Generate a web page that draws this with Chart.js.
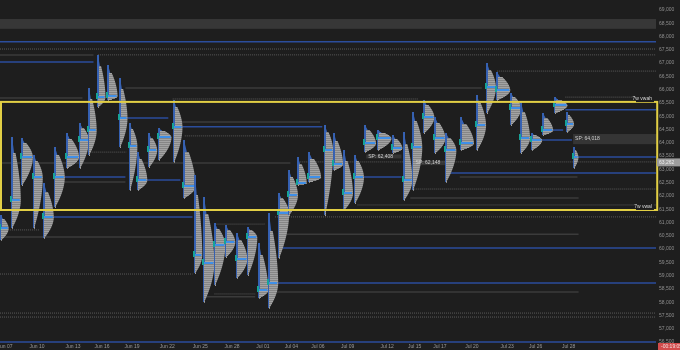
<!DOCTYPE html>
<html>
<head>
<meta charset="utf-8">
<script src="https://cdn.jsdelivr.net/npm/chart.js@4"></script>
<style>
  html, body { margin: 0; padding: 0; background: #1e1e1e; }
  canvas { display: block; }
</style>
</head>
<body>
<canvas id="profileChart" width="680" height="350"></canvas>
<script>
// x axis: session slots, tick labels
const xTickPos = [0.45, 3.36, 6.64, 9.27, 12.0, 15.2, 18.2, 21.1, 23.9, 26.5, 28.9, 31.6, 35.2, 37.7, 40.0, 42.9, 46.1, 48.7, 51.7];
const xTickLabels = ['Jun 07', 'Jun 10', 'Jun 13', 'Jun 16', 'Jun 19', 'Jun 22', 'Jun 25', 'Jun 28', 'Jul 01', 'Jul 04', 'Jul 06',
  'Jul 09', 'Jul 12', 'Jul 15', 'Jul 17', 'Jul 20', 'Jul 23', 'Jul 26', 'Jul 28'];
// price axis ticks
const yTickValues = [56500, 57000, 57500, 58000, 58500, 59000, 59500, 60000, 60500, 61000, 61500, 62000, 62500,
  63000, 63500, 64000, 64500, 65000, 65500, 66000, 66500, 67000, 67500, 68000, 68500, 69000];

// daily volume profiles
const profileX = [0, 1.0, 1.9, 3.0, 3.9, 4.9, 6.0, 7.2, 8.0, 8.8, 9.7, 10.8, 11.7, 12.5, 13.5, 14.4, 15.7, 16.6, 17.6, 18.5,
  19.5, 20.5, 21.5, 22.5, 23.5, 24.4, 25.3, 26.2, 27.0, 28.0, 29.5, 30.3, 31.2, 32.2, 33.1, 34.3, 35.6, 36.6, 37.5, 38.5,
  39.5, 40.5, 41.8, 43.3, 44.2, 45.1, 46.4, 47.3, 48.3, 49.3, 50.4, 51.5, 52.1];
const profileHigh = [61280, 64220, 64180, 63540, 62490, 63840, 64370, 64750, 66060, 67310, 66930, 66440, 64750, 63650, 64370, 64560, 65610, 64110, 62790, 61960,
  60980, 60910, 60600, 60830, 60230, 61360, 62110, 62980, 63470, 63650, 64670, 64370, 63730, 63540, 64670, 64480, 64290, 64410, 65160, 65610,
  64970, 64370, 64970, 65800, 67010, 66670, 65880, 65540, 64370, 65120, 65730, 65160, 63840];
const profileLow = [60340, 60790, 62410, 60790, 60420, 61580, 63050, 63050, 63540, 65350, 65610, 63840, 62220, 62220, 63090, 63350, 63280, 61920, 59100, 58010,
  58650, 59700, 58910, 59020, 58160, 57780, 59660, 61280, 62410, 62520, 61280, 62980, 61470, 61730, 63650, 63730, 63620, 61850, 62220, 64370,
  63620, 62520, 63730, 63730, 65120, 65610, 64670, 63620, 63730, 64290, 65120, 64410, 63050];
const profilePoc = [60790, 61850, 63470, 62710, 61210, 62710, 63470, 64110, 64480, 65730, 65760, 64930, 63880, 62600, 63730, 64220, 64600, 62370, 59780, 59470,
  60150, 60270, 59630, 60450, 58460, 58720, 61360, 62040, 62490, 62710, 63730, 63200, 62110, 62710, 63990, 64180, 63800, 62600, 63840, 64970,
  64180, 63730, 63990, 64670, 66100, 65990, 65310, 64180, 64110, 64480, 65420, 64710, 63470];
const profileVolume = [0.7, 0.8, 1.0, 0.8, 0.9, 0.9, 1.1, 0.8, 0.7, 0.7, 0.9, 0.7, 0.7, 0.8, 0.7, 1.1, 0.8, 1.1, 0.7, 0.9,
  0.9, 0.8, 0.9, 0.8, 0.8, 0.8, 0.9, 0.8, 0.8, 1.1, 0.7, 0.8, 0.8, 0.8, 1.0, 1.2, 0.9, 0.8, 0.8, 0.9,
  0.9, 0.9, 1.2, 0.8, 0.8, 1.2, 0.9, 0.8, 0.9, 0.9, 1.1, 0.6, 0.4];

// horizontal levels (naked pocs, highs/lows, vwap levels)
const levelPrice = [67800, 67040, 65240, 64930, 64600, 64480, 64110, 63470, 62860, 62710, 62600, 62710, 61210, 60040, 58720, 56500,
  67310, 66060, 65690, 64780, 63240, 62520, 60450, 61920, 62710, 60560, 58380, 58200,
  67530, 67310, 66700, 65720, 65650, 64260, 63650, 63280, 62260, 61660, 61210, 60720, 60940, 59060, 58310, 57590, 57440];
const levelFrom = [0, 0, 51.4, 10.9, 15.7, 49.4, 47.5, 52.3, 40.9, 5.2, 13.0, 32.5, 4.1, 25.5, 25.2, 0,
  0, 11.4, 0, 16.4, 0, 5.2, 0, 37.3, 41.8, 25.5, 23.6, 18.6,
  0, 8.9, 45.2, 51.4, 15.7, 16.8, 7.3, 27.3, 37.3, 32.5, 25.0, 0.9, 19.5, 0, 19.5, 0, 0];
const levelTo = [59.7, 8.5, 59.7, 15.3, 29.3, 51.2, 52.0, 59.7, 59.7, 11.4, 16.4, 36.5, 17.5, 59.7, 59.7, 59.7,
  8.5, 43.8, 7.5, 29.1, 26.4, 11.4, 17.5, 52.6, 52.5, 52.6, 52.6, 23.2,
  59.7, 59.7, 59.7, 58.2, 38.0, 29.1, 11.5, 59.7, 59.7, 59.7, 59.7, 3.6, 24.1, 17.5, 23.2, 59.7, 59.7];
const levelKind = ['blue', 'blue', 'blue', 'blue', 'blue', 'blue', 'blue', 'blue', 'blue', 'blue', 'blue', 'blue', 'blue', 'blue', 'blue', 'blue',
  'gray', 'gray', 'gray', 'gray', 'gray', 'gray', 'gray', 'gray', 'gray', 'gray', 'gray', 'gray',
  'dot', 'dot', 'dot', 'dot', 'dot', 'dot', 'dot', 'dot', 'dot', 'dot', 'dot', 'dot', 'dot', 'dot', 'dot', 'dot', 'dot'];

// 7 week value area
const zoneHigh = 65540;
const zoneLow = 61470;
const zoneFrom = 0;
const zoneTo = 59.75;
const vwapLabels = ['7w vwah', '7w vwal'];
const vwapPrice = [65720, 61660];

// shaded bands
const bandHigh = 68660;
const bandLow = 68290;
const spLabels = ['SP: 62,408', 'SP: 62,148', 'SP: 64,018'];
const spFrom = [33.3, 37.6, 52.1];
const spTo = [36.5, 41.2, 59.7];
const spTop = [63560, 63330, 64330];
const spBottom = [63410, 63160, 63950];

const lastPrice = 63262;
const countdown = '-00:19:05';

const lineColors = { blue: '#2b4d9c', gray: '#3b3b3b', dot: '#5a5a5a' };
const fontFamily = '"Liberation Sans", Arial, sans-serif';

const levelDatasets = levelPrice.map((p, i) => ({
  data: [{ x: levelFrom[i], y: p }, { x: levelTo[i], y: p }],
  borderColor: lineColors[levelKind[i]],
  borderWidth: levelKind[i] === 'dot' ? 1 : 1.5,
  borderDash: levelKind[i] === 'dot' ? [1, 1] : [],
  pointRadius: 0,
  fill: false
}));

const fmt = v => Math.round(v).toLocaleString('en-US');

// drop the label padding chart.js reserves around the plot
const noPad = scale => {
  scale.paddingTop = 0;
  scale.paddingBottom = 0;
  scale.paddingLeft = 0;
  scale.paddingRight = 0;
};

// background, bands, profiles and the value-area box
const profilePlugin = {
  id: 'profiles',
  beforeDraw(chart) {
    const ctx = chart.ctx;
    ctx.save();
    ctx.fillStyle = '#1e1e1e';
    ctx.fillRect(0, 0, chart.width, chart.height);
    ctx.restore();
  },
  beforeDatasetsDraw(chart) {
    const { ctx, chartArea: a, scales: { x, y } } = chart;
    ctx.save();
    ctx.fillStyle = '#373737';
    const t = y.getPixelForValue(bandHigh);
    const b = y.getPixelForValue(bandLow);
    ctx.fillRect(a.left, t, a.right - a.left, b - t);
    spLabels.forEach((s, i) => {
      const x0 = x.getPixelForValue(spFrom[i]);
      const x1 = x.getPixelForValue(spTo[i]);
      const y0 = y.getPixelForValue(spTop[i]);
      const y1 = y.getPixelForValue(spBottom[i]);
      ctx.fillStyle = '#353535';
      ctx.fillRect(x0, y0, x1 - x0, y1 - y0);
    });
    ctx.restore();
  },
  afterDatasetsDraw(chart) {
    const { ctx, chartArea: a, scales: { x, y } } = chart;
    ctx.save();
    for (let i = 0; i < profileX.length; i++) {
      const x0 = Math.round(x.getPixelForValue(profileX[i]));
      const maxW = x.getPixelForValue(profileX[i] + profileVolume[i]) - x0;
      const yt = Math.round(y.getPixelForValue(profileHigh[i]));
      const yb = Math.round(y.getPixelForValue(profileLow[i]));
      const yp = y.getPixelForValue(profilePoc[i]);
      for (let r = yt; r <= yb; r++) {
        const up = r < yp;
        const d = up ? (yp - r) / Math.max(1, yp - yt) : (r - yp) / Math.max(1, yb - yp);
        const w = Math.max(1, maxW * (1 - Math.pow(Math.min(1, d), 1.8)));
        // thin tails above the poc are blue, the body gray
        if (up && d > 0.75) {
          ctx.fillStyle = '#3762b4';
          ctx.fillRect(x0 + 1, r, Math.max(1, w * 0.6), 1);
        } else {
          ctx.fillStyle = r % 2 ? '#a3a3a3' : '#868686';
          ctx.fillRect(x0 + 1, r, w, 1);
          if (up) {
            ctx.fillStyle = '#3762b4';
            ctx.fillRect(x0 + 1, r, 1, 1);
          }
        }
      }
      ctx.fillStyle = '#3560b0';
      ctx.fillRect(x0, yt, 1, yb - yt);
      ctx.fillStyle = '#3f8fe8';
      ctx.fillRect(x0, Math.round(yp) - 1, maxW, 2);
      ctx.fillStyle = '#17a398';
      ctx.fillRect(x0 - 1, Math.round(yp) - 4, 2, 6);
    }

    // yellow 7w value area
    const zt = y.getPixelForValue(zoneHigh);
    const zb = y.getPixelForValue(zoneLow);
    const zl = x.getPixelForValue(zoneFrom) + 1;
    const zr = x.getPixelForValue(zoneTo);
    ctx.strokeStyle = '#e2cf45';
    ctx.lineWidth = 2;
    ctx.strokeRect(zl, zt, zr - zl, zb - zt);

    ctx.font = '5px ' + fontFamily;
    ctx.textBaseline = 'middle';
    spLabels.forEach((s, i) => {
      ctx.fillStyle = '#cfcfcf';
      ctx.textAlign = 'left';
      ctx.fillText(s, x.getPixelForValue(spFrom[i]) + 2, (y.getPixelForValue(spTop[i]) + y.getPixelForValue(spBottom[i])) / 2);
    });
    vwapLabels.forEach((s, i) => {
      const py = y.getPixelForValue(vwapPrice[i]) + 2;
      ctx.fillStyle = '#1e1e1e';
      ctx.fillRect(a.right - 20, py - 3, 18, 6);
      ctx.fillStyle = '#d8d8d8';
      ctx.textAlign = 'right';
      ctx.fillText(s, a.right - 4, py);
    });
    ctx.restore();
  },
  afterDraw(chart) {
    const { ctx, chartArea: a, scales: { y } } = chart;
    ctx.save();
    ctx.font = '5px ' + fontFamily;
    ctx.textBaseline = 'middle';
    ctx.textAlign = 'left';
    const py = y.getPixelForValue(lastPrice);
    ctx.fillStyle = '#9d9d9d';
    ctx.fillRect(a.right + 1, py - 4, chart.width - a.right - 1, 8);
    ctx.fillStyle = '#ececec';
    ctx.fillText(fmt(lastPrice), a.right + 3, py);
    ctx.fillStyle = '#d24b4b';
    ctx.fillRect(a.right + 2, chart.height - 7, chart.width - a.right - 2, 7);
    ctx.fillStyle = '#f2dede';
    ctx.fillText(countdown, a.right + 5, chart.height - 3.5);
    ctx.restore();
  }
};

new Chart(document.getElementById('profileChart'), {
  type: 'line',
  data: { datasets: levelDatasets },
  options: {
    responsive: false,
    animation: false,
    devicePixelRatio: 1,
    layout: { padding: 0 },
    plugins: { legend: { display: false }, tooltip: { enabled: false } },
    scales: {
      x: {
        type: 'linear',
        position: 'bottom',
        min: 0,
        max: 59.64,
        grid: { display: false, drawTicks: false },
        border: { display: false },
        afterBuildTicks: scale => { scale.ticks = xTickPos.map(v => ({ value: v })); },
        afterFit: scale => { scale.height = 7; noPad(scale); },
        ticks: {
          autoSkip: false,
          maxRotation: 0,
          padding: 1,
          color: '#9a9a9a',
          font: { family: fontFamily, size: 5 },
          callback: (v, i) => xTickLabels[i]
        }
      },
      y: {
        type: 'linear',
        position: 'right',
        min: 56463,
        max: 69376,
        grid: { display: false, drawTicks: false },
        border: { display: false },
        afterBuildTicks: scale => { scale.ticks = yTickValues.map(v => ({ value: v })); },
        afterFit: scale => { scale.width = 24; noPad(scale); },
        ticks: {
          autoSkip: false,
          padding: 3,
          color: '#8f8f8f',
          font: { family: fontFamily, size: 5 },
          callback: v => fmt(v)
        }
      }
    }
  },
  plugins: [profilePlugin]
});
</script>
</body>
</html>
